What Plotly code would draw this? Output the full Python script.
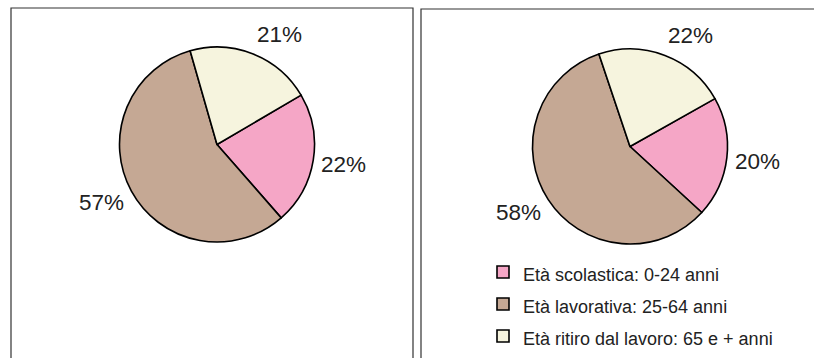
import numpy as np
import plotly.graph_objects as go

categories = ["Età scolastica: 0-24 anni", "Età lavorativa: 25-64 anni", "Età ritiro dal lavoro: 65 e + anni"]
values_left = [22, 57, 21]
values_right = [20, 58, 22]
colors = ["#F5A6C6", "#C5A894", "#F6F4DE"]

W, H = 814, 358
R = 97.5
pies = [
    dict(values=values_left, rotation=59.6, cx=217, cy=144.5, legend=False),
    dict(values=values_right, rotation=60.6, cx=630, cy=146.5, legend=True),
]

def px_dom(cx, cy, r):
    return dict(x=[(cx - r) / W, (cx + r) / W], y=[(H - cy - r) / H, (H - cy + r) / H])

legend_labels = ['<span style="font-size:18px">%s</span>' % c for c in categories]
label_font = dict(size=22.5, color="#222222", family="Liberation Sans, Arial")

fig = go.Figure()
annotations = []
for p in pies:
    vals = np.array(p["values"], dtype=float)
    fig.add_trace(go.Pie(
        labels=legend_labels, values=vals, sort=False, direction="clockwise",
        rotation=p["rotation"], marker=dict(colors=colors, line=dict(color="#000000", width=1.6)),
        textinfo="none", showlegend=p["legend"],
        domain=px_dom(p["cx"], p["cy"], R), hoverinfo="label+percent",
    ))
    # data labels placed just outside each slice, at its mid angle
    cum = np.cumsum(vals) - vals / 2
    mids = np.radians(p["rotation"] + 360 * cum / vals.sum())
    pct = np.round(100 * vals / vals.sum()).astype(int)
    d = R + 7
    for a, t in zip(mids, pct):
        ux, uy = np.sin(a), -np.cos(a)
        xa = "left" if ux > 0.15 else ("right" if ux < -0.15 else "center")
        annotations.append(dict(
            x=(p["cx"] + d * ux) / W, y=1 - (p["cy"] + (d + 15) * uy + 1) / H,
            xref="paper", yref="paper",
            text=f"{t}%", showarrow=False, xanchor=xa, yanchor="middle", font=label_font,
            borderpad=0,
        ))

shapes = [
    dict(type="rect", xref="paper", yref="paper", x0=11 / W, x1=413 / W, y0=-0.1, y1=(H - 8) / H,
         line=dict(color="#333333", width=1.2), fillcolor="rgba(0,0,0,0)"),
    dict(type="rect", xref="paper", yref="paper", x0=421 / W, x1=1.1, y0=-0.1, y1=(H - 9) / H,
         line=dict(color="#333333", width=1.2), fillcolor="rgba(0,0,0,0)"),
]

fig.update_layout(
    width=W, height=H, margin=dict(l=0, r=0, t=0, b=0, autoexpand=False),
    paper_bgcolor="white", plot_bgcolor="white",
    font=dict(family="Liberation Sans, Arial", color="#222222"),
    shapes=shapes, annotations=annotations,
    legend=dict(x=483 / W, y=(H - 251) / H, xanchor="left", yanchor="top",
                font=dict(size=22.3, color="#222222", family="Liberation Sans, Arial"),
                bgcolor="rgba(0,0,0,0)", traceorder="normal"),
)
fig.write_html("out.html", config={"displayModeBar": False},
               post_script="document.body.style.margin='0';document.body.style.overflow='hidden';")
